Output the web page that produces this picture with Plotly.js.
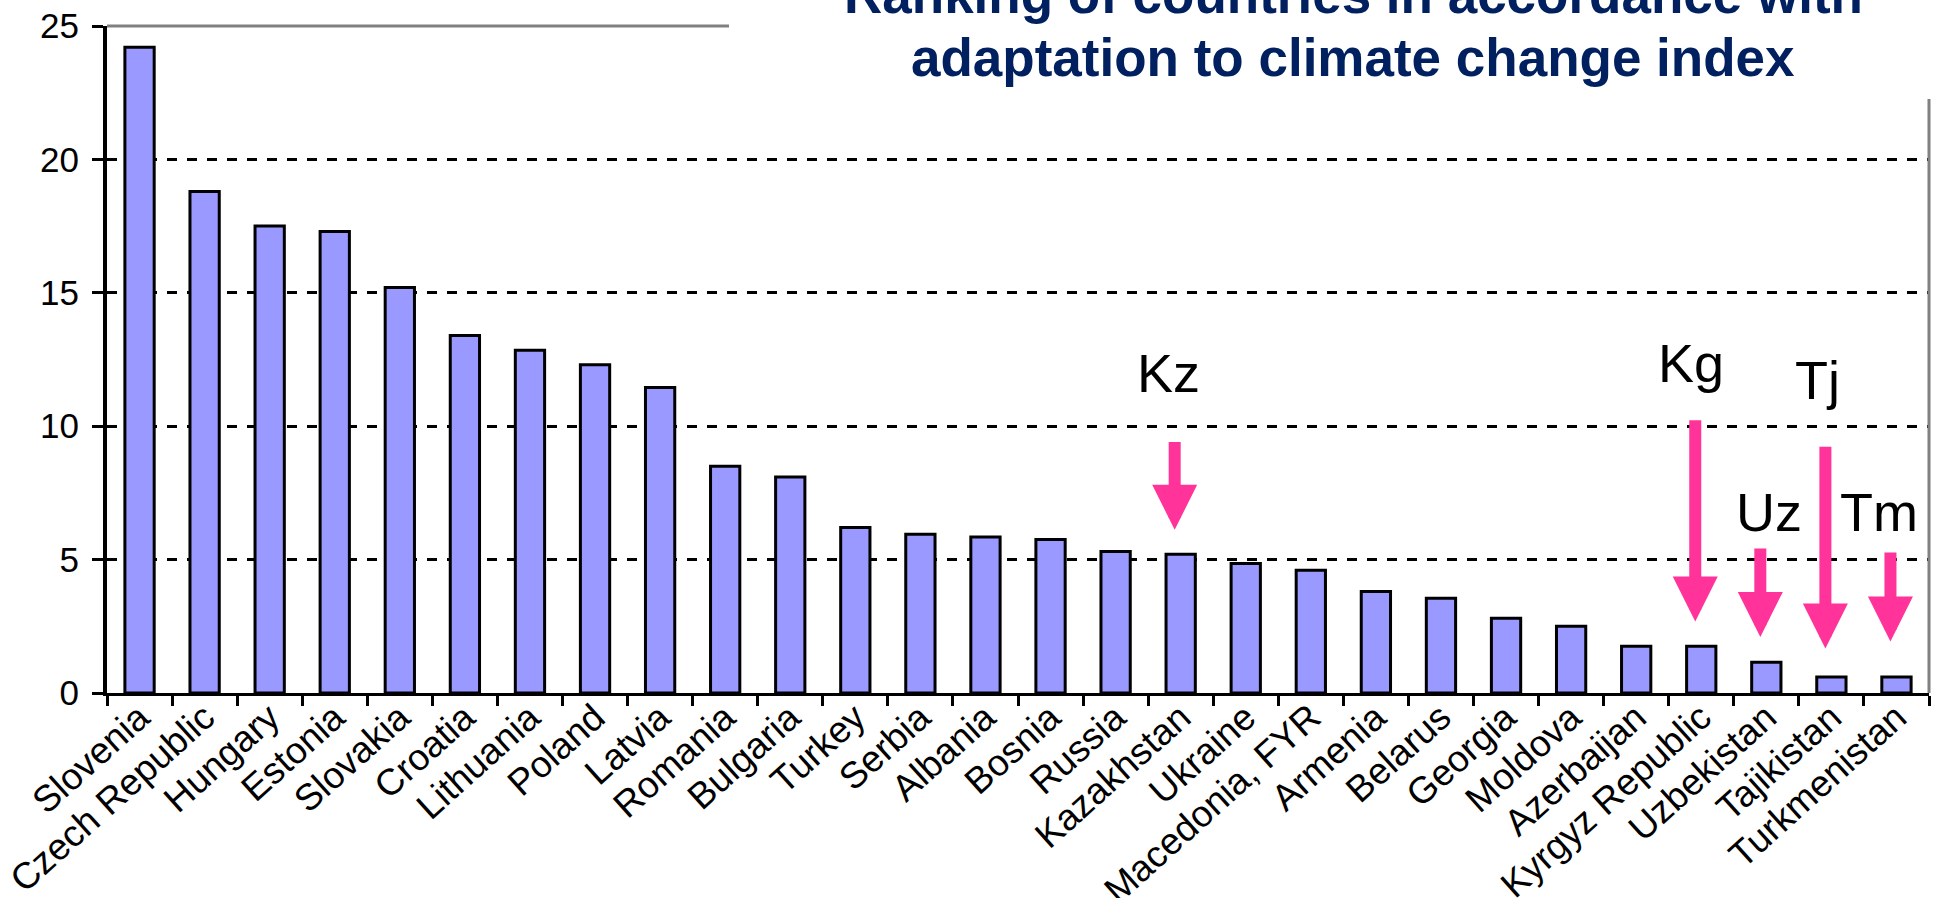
<!DOCTYPE html>
<html>
<head>
<meta charset="utf-8">
<script src="https://cdn.plot.ly/plotly-3.0.1.min.js"></script>
<style>
  html, body { margin: 0; padding: 0; background: #ffffff; }
  #chart { width: 1937px; height: 898px; }
</style>
</head>
<body>
<div id="chart"></div>
<script>
// Countries ranked by the adaptation to climate change index
const countries = [
  'Slovenia', 'Czech Republic', 'Hungary', 'Estonia', 'Slovakia', 'Croatia',
  'Lithuania', 'Poland', 'Latvia', 'Romania', 'Bulgaria', 'Turkey', 'Serbia',
  'Albania', 'Bosnia', 'Russia', 'Kazakhstan', 'Ukraine', 'Macedonia, FYR',
  'Armenia', 'Belarus', 'Georgia', 'Moldova', 'Azerbaijan', 'Kyrgyz Republic',
  'Uzbekistan', 'Tajikistan', 'Turkmenistan'
];
const indexValues = [
  24.2, 18.8, 17.5, 17.3, 15.2, 13.4,
  12.85, 12.3, 11.45, 8.5, 8.1, 6.2, 5.95,
  5.85, 5.75, 5.3, 5.2, 4.85, 4.6,
  3.8, 3.55, 2.8, 2.5, 1.75, 1.75,
  1.15, 0.6, 0.6
];

// Central Asian countries called out with arrows
const calloutCountries = ['Kazakhstan', 'Kyrgyz Republic', 'Uzbekistan', 'Tajikistan', 'Turkmenistan'];
const calloutLabels = ['Kz', 'Kg', 'Uz', 'Tj', 'Tm'];
const arrowTail = [9.46, 10.28, 5.47, 9.29, 5.32];
const arrowTip = [6.12, 2.68, 2.10, 1.67, 1.93];
const labelLevel = [12.0, 12.38, 6.79, 11.74, 6.79];

const titleLines = ['Ranking of countries in accordance with', 'adaptation to climate change index'];
const yTicks = [0, 5, 10, 15, 20, 25];

// horizontal nudges for the callout text (px)
const labelNudge = [-12, -10, 3, -14, -17];

const bars = {
  type: 'bar',
  x: countries,
  y: indexValues,
  marker: { color: '#9999FF', line: { color: '#000000', width: 3 } },
  hoverinfo: 'x+y'
};

const annotations = [];
calloutCountries.forEach((c, i) => {
  annotations.push({
    x: c, y: arrowTip[i], xref: 'x', yref: 'y',
    ax: c, ay: arrowTail[i], axref: 'x', ayref: 'y',
    text: '', showarrow: true, arrowhead: 2, arrowsize: 0.75, arrowwidth: 12,
    arrowcolor: '#FF3399', standoff: 0, startstandoff: 0, xshift: -6
  });
  annotations.push({
    x: c, y: labelLevel[i], xref: 'x', yref: 'y',
    text: calloutLabels[i], showarrow: false, xanchor: 'center', yanchor: 'middle',
    xshift: labelNudge[i],
    font: { family: 'Liberation Sans, Arial, sans-serif', size: 54, color: '#000000' }
  });
});

// two-line heading, partly running off the top edge
titleLines.forEach((line, i) => {
  annotations.push({
    text: '<b>' + line + '</b>', showarrow: false,
    xref: 'paper', yref: 'paper', x: 0.684, xanchor: 'center',
    y: i === 0 ? 1.0007 : 0.9055, yanchor: 'bottom',
    font: { family: 'Liberation Sans, Arial, sans-serif', size: 53, color: '#002060' }
  });
});

const layout = {
  width: 1937, height: 898,
  margin: { l: 107, r: 8, t: 26, b: 205, pad: 0 },
  paper_bgcolor: '#ffffff', plot_bgcolor: '#ffffff',
  showlegend: false,
  bargap: 0.55,
  xaxis: {
    type: 'category',
    showline: true, linecolor: '#000000', linewidth: 3,
    ticks: 'outside', tickson: 'boundaries', ticklen: 10, tickwidth: 3, tickcolor: '#000000',
    tickangle: -42,
    ticklabelstandoff: -15,
    tickfont: { family: 'Liberation Sans, Arial, sans-serif', size: 37, color: '#000000' },
    showgrid: false, zeroline: false, fixedrange: true
  },
  yaxis: {
    range: [0, 25], tickvals: yTicks, ticktext: yTicks.map(String),
    showline: true, linecolor: '#000000', linewidth: 4,
    ticks: 'outside', ticklen: 11, tickwidth: 3, tickcolor: '#000000',
    ticklabelstandoff: 6,
    tickfont: { family: 'Liberation Sans, Arial, sans-serif', size: 35, color: '#000000' },
    showgrid: true, gridcolor: '#000000', gridwidth: 3, griddash: '10px,10px',
    zeroline: false, fixedrange: true
  },
  shapes: [
    // plot frame: top edge stops where the heading begins, right edge starts below it
    { type: 'line', xref: 'paper', yref: 'paper', x0: 0, x1: 0.3414, y0: 1, y1: 1,
      line: { color: '#808080', width: 3 }, layer: 'above' },
    { type: 'line', xref: 'paper', yref: 'paper', x0: 1, x1: 1, y0: 0, y1: 0.8906,
      line: { color: '#808080', width: 3 }, layer: 'above' }
  ],
  annotations: annotations
};

Plotly.newPlot('chart', [bars], layout, { displayModeBar: false, staticPlot: true });
</script>
</body>
</html>
